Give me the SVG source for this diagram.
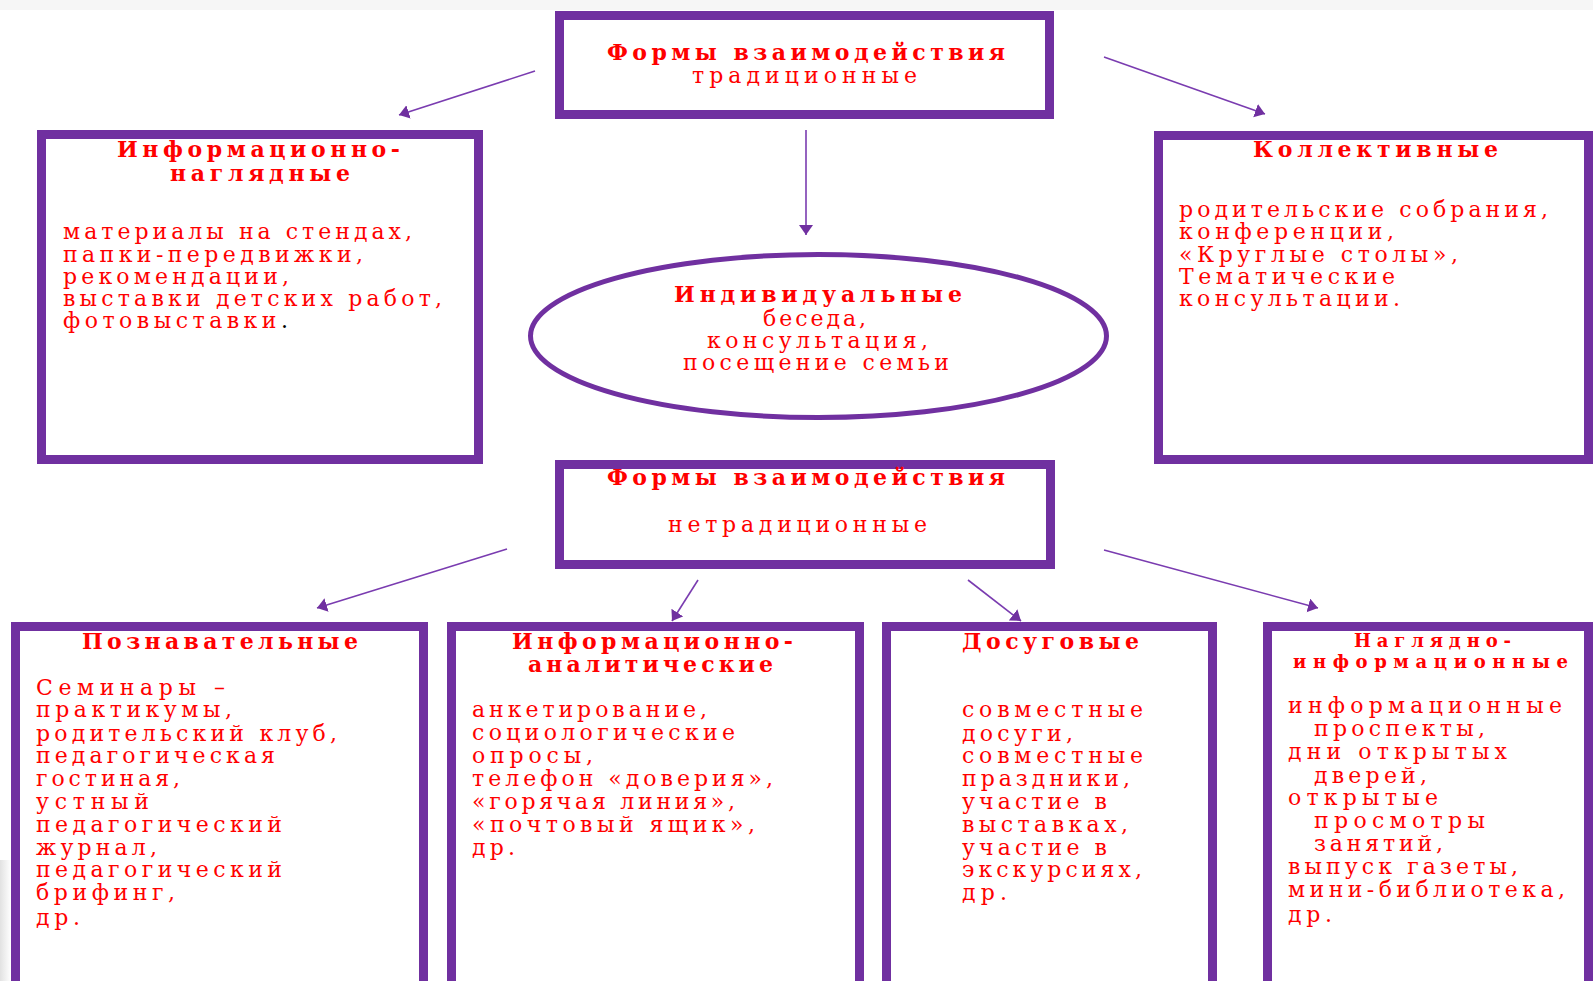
<svg xmlns="http://www.w3.org/2000/svg" width="1593" height="981" viewBox="0 0 1593 981">
<style>
.box{fill:#ffffff;stroke:#7030A0;stroke-width:9}
.ell{fill:#ffffff;stroke:#7030A0;stroke-width:5}
.con{stroke:#7a3cb0;stroke-width:1.6;fill:none;marker-end:url(#ah)}
.t{font-family:"DejaVu Serif","Liberation Serif",serif;fill:#FF0000;font-size:22px}
.b{font-family:"DejaVu Serif","Liberation Serif",serif;fill:#FF0000;font-size:22px;font-weight:bold}
.bs{font-family:"DejaVu Serif","Liberation Serif",serif;fill:#FF0000;font-size:18px;font-weight:bold}
</style>
<defs>
<marker id="ah" markerUnits="userSpaceOnUse" markerWidth="14" markerHeight="16" refX="10" refY="7" orient="auto">
<path d="M0,0 L10,7 L0,14 z" fill="#7030A0"/>
</marker>
<linearGradient id="sh" x1="0" y1="0" x2="1" y2="0">
<stop offset="0" stop-color="#e2e2e2"/>
<stop offset="1" stop-color="#ffffff"/>
</linearGradient>
</defs>
<rect x="0" y="0" width="1593" height="981" fill="#ffffff"/>
<rect x="0" y="0" width="1593" height="10" fill="#f6f6f6"/>
<rect x="0" y="860" width="11" height="121" fill="url(#sh)"/>

<g id="connectors">
<line class="con" x1="535" y1="71" x2="399" y2="115"/>
<line class="con" x1="1104" y1="57" x2="1265" y2="114"/>
<line class="con" x1="806" y1="130" x2="806" y2="235"/>
<line class="con" x1="507" y1="549" x2="317" y2="608"/>
<line class="con" x1="698" y1="580" x2="672" y2="621"/>
<line class="con" x1="968" y1="580" x2="1021" y2="621"/>
<line class="con" x1="1104" y1="550" x2="1318" y2="608"/>
</g>

<g id="node-traditional">
<rect class="box" x="559.5" y="15.5" width="490" height="99"/>
<text class="b" x="607" y="60" textLength="398" lengthAdjust="spacing">Формы взаимодействия</text>
<text class="t" x="692" y="83" textLength="225" lengthAdjust="spacing">традиционные</text>
</g>

<g id="node-info-visual">
<rect class="box" x="41.5" y="134.5" width="437" height="325"/>
<text class="b" x="117" y="157" textLength="283" lengthAdjust="spacing">Информационно-</text>
<text class="b" x="170" y="181" textLength="180" lengthAdjust="spacing">наглядные</text>
<text class="t" x="63" y="239" textLength="349" lengthAdjust="spacing">материалы на стендах,</text>
<text class="t" x="63" y="262" textLength="300" lengthAdjust="spacing">папки-передвижки,</text>
<text class="t" x="63" y="284" textLength="226" lengthAdjust="spacing">рекомендации,</text>
<text class="t" x="63" y="306" textLength="379" lengthAdjust="spacing">выставки детских работ,</text>
<text class="t" x="63" y="328" textLength="225" lengthAdjust="spacing">фотовыставки<tspan fill="#000000">.</tspan></text>
</g>

<g id="node-collective">
<rect class="box" x="1158.5" y="135.5" width="430" height="324"/>
<text class="b" x="1253" y="157" textLength="245" lengthAdjust="spacing">Коллективные</text>
<text class="t" x="1179" y="217" textLength="369" lengthAdjust="spacing">родительские собрания,</text>
<text class="t" x="1179" y="239" textLength="215" lengthAdjust="spacing">конференции,</text>
<text class="t" x="1179" y="262" textLength="279" lengthAdjust="spacing">«Круглые столы»,</text>
<text class="t" x="1179" y="284" textLength="216" lengthAdjust="spacing">Тематические</text>
<text class="t" x="1179" y="306" textLength="221" lengthAdjust="spacing">консультации.</text>
</g>

<g id="node-individual">
<ellipse class="ell" cx="818.5" cy="336" rx="288" ry="81.5"/>
<text class="b" x="674" y="302" textLength="288" lengthAdjust="spacing">Индивидуальные</text>
<text class="t" x="763" y="326" textLength="103" lengthAdjust="spacing">беседа,</text>
<text class="t" x="707" y="348" textLength="221" lengthAdjust="spacing">консультация,</text>
<text class="t" x="683" y="370" textLength="266" lengthAdjust="spacing">посещение семьи</text>
</g>

<g id="node-nontraditional">
<rect class="box" x="559.5" y="464.5" width="491" height="100"/>
<text class="b" x="607" y="485" textLength="398" lengthAdjust="spacing">Формы взаимодействия</text>
<text class="t" x="668" y="532" textLength="259" lengthAdjust="spacing">нетрадиционные</text>
</g>

<g id="node-cognitive">
<rect class="box" x="15.5" y="626.5" width="408" height="400"/>
<text class="b" x="82" y="649" textLength="276" lengthAdjust="spacing">Познавательные</text>
<text class="t" x="36" y="695" textLength="189" lengthAdjust="spacing">Семинары –</text>
<text class="t" x="36" y="717" textLength="196" lengthAdjust="spacing">практикумы,</text>
<text class="t" x="36" y="741" textLength="301" lengthAdjust="spacing">родительский клуб,</text>
<text class="t" x="36" y="763" textLength="239" lengthAdjust="spacing">педагогическая</text>
<text class="t" x="36" y="786" textLength="144" lengthAdjust="spacing">гостиная,</text>
<text class="t" x="36" y="809" textLength="113" lengthAdjust="spacing">устный</text>
<text class="t" x="36" y="832" textLength="246" lengthAdjust="spacing">педагогический</text>
<text class="t" x="36" y="855" textLength="121" lengthAdjust="spacing">журнал,</text>
<text class="t" x="36" y="877" textLength="246" lengthAdjust="spacing">педагогический</text>
<text class="t" x="36" y="900" textLength="139" lengthAdjust="spacing">брифинг,</text>
<text class="t" x="36" y="925" textLength="44" lengthAdjust="spacing">др.</text>
</g>

<g id="node-info-analytic">
<rect class="box" x="451.5" y="626.5" width="408" height="400"/>
<text class="b" x="512" y="649" textLength="281" lengthAdjust="spacing">Информационно-</text>
<text class="b" x="528" y="672" textLength="245" lengthAdjust="spacing">аналитические</text>
<text class="t" x="472" y="717" textLength="235" lengthAdjust="spacing">анкетирование,</text>
<text class="t" x="472" y="740" textLength="263" lengthAdjust="spacing">социологические</text>
<text class="t" x="472" y="763" textLength="121" lengthAdjust="spacing">опросы,</text>
<text class="t" x="472" y="786" textLength="301" lengthAdjust="spacing">телефон «доверия»,</text>
<text class="t" x="472" y="809" textLength="263" lengthAdjust="spacing">«горячая линия»,</text>
<text class="t" x="472" y="832" textLength="283" lengthAdjust="spacing">«почтовый ящик»,</text>
<text class="t" x="472" y="855" textLength="43" lengthAdjust="spacing">др.</text>
</g>

<g id="node-leisure">
<rect class="box" x="886.5" y="626.5" width="326" height="400"/>
<text class="b" x="962" y="649" textLength="177" lengthAdjust="spacing">Досуговые</text>
<text class="t" x="962" y="717" textLength="181" lengthAdjust="spacing">совместные</text>
<text class="t" x="962" y="741" textLength="111" lengthAdjust="spacing">досуги,</text>
<text class="t" x="962" y="763" textLength="181" lengthAdjust="spacing">совместные</text>
<text class="t" x="962" y="786" textLength="168" lengthAdjust="spacing">праздники,</text>
<text class="t" x="962" y="809" textLength="145" lengthAdjust="spacing">участие в</text>
<text class="t" x="962" y="832" textLength="166" lengthAdjust="spacing">выставках,</text>
<text class="t" x="962" y="855" textLength="145" lengthAdjust="spacing">участие в</text>
<text class="t" x="962" y="877" textLength="180" lengthAdjust="spacing">экскурсиях,</text>
<text class="t" x="962" y="900" textLength="45" lengthAdjust="spacing">др.</text>
</g>

<g id="node-visual-info">
<rect class="box" x="1267.5" y="626.5" width="321" height="400"/>
<text class="bs" x="1354" y="647" textLength="157" lengthAdjust="spacing">Наглядно-</text>
<text class="bs" x="1293" y="668" textLength="275" lengthAdjust="spacing">информационные</text>
<text class="t" x="1288" y="713" textLength="274" lengthAdjust="spacing">информационные</text>
<text class="t" x="1314" y="736" textLength="171" lengthAdjust="spacing">проспекты,</text>
<text class="t" x="1288" y="759" textLength="219" lengthAdjust="spacing">дни открытых</text>
<text class="t" x="1314" y="783" textLength="113" lengthAdjust="spacing">дверей,</text>
<text class="t" x="1288" y="805" textLength="150" lengthAdjust="spacing">открытые</text>
<text class="t" x="1314" y="828" textLength="171" lengthAdjust="spacing">просмотры</text>
<text class="t" x="1314" y="851" textLength="129" lengthAdjust="spacing">занятий,</text>
<text class="t" x="1288" y="874" textLength="230" lengthAdjust="spacing">выпуск газеты,</text>
<text class="t" x="1288" y="897" textLength="277" lengthAdjust="spacing">мини-библиотека,</text>
<text class="t" x="1288" y="922" textLength="44" lengthAdjust="spacing">др.</text>
</g>
</svg>
